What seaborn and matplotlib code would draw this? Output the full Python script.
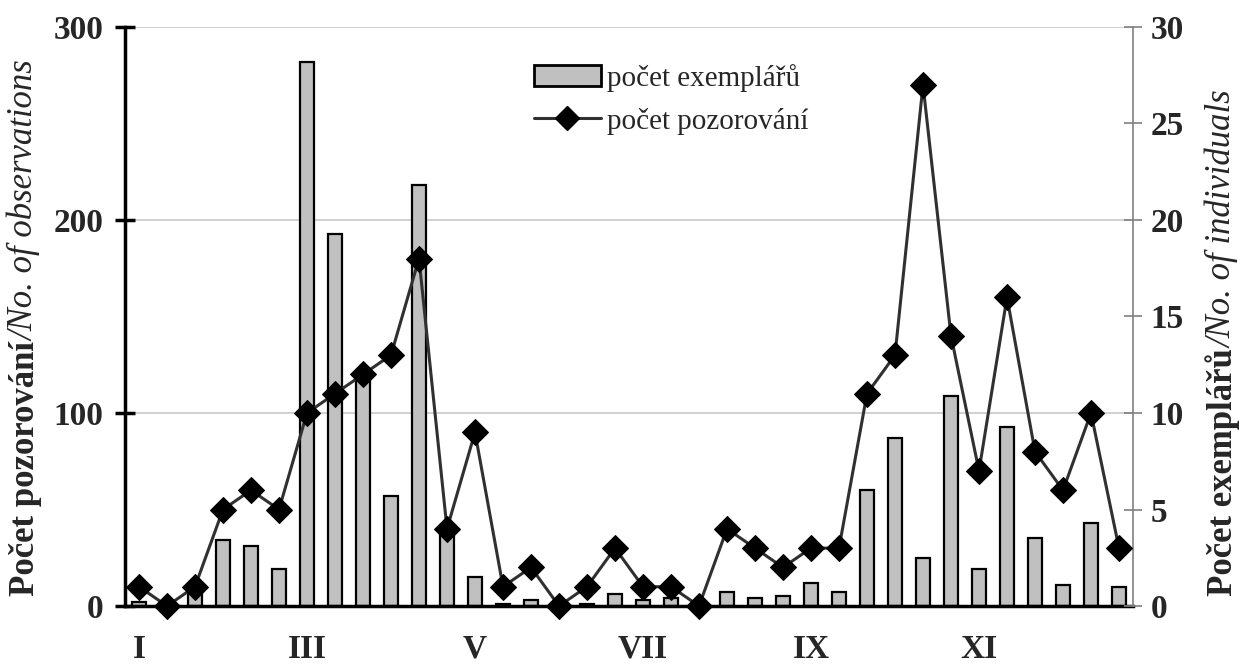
import numpy as np
import matplotlib
matplotlib.use("Agg")
import matplotlib.pyplot as plt
import seaborn as sns
from matplotlib.patches import Patch
from matplotlib.lines import Line2D

# decades (3 per month), January .. December
decades = np.arange(36)
month_labels = ["I", "III", "V", "VII", "IX", "XI"]
month_pos = [0, 6, 12, 18, 24, 30]

# bars - left axis (počet exemplářů)
exemplaru = [2, 0, 6, 34, 31, 19, 282, 193, 120, 57, 218, 40,
             15, 1, 3, 0, 1, 6, 3, 4, 0, 7, 4, 5,
             12, 7, 60, 87, 25, 109, 19, 93, 35, 11, 43, 10]
# line - right axis (počet pozorování)
pozorovani = [1, 0, 1, 5, 6, 5, 10, 11, 12, 13, 18, 4,
              9, 1, 2, 0, 1, 3, 1, 1, 0, 4, 3, 2,
              3, 3, 11, 13, 27, 14, 7, 16, 8, 6, 10, 3]

W, H = 1243, 668
sns.set_style("white")
plt.rcParams["font.family"] = ["Liberation Serif", "DejaVu Serif"]

fig = plt.figure(figsize=(W / 100, H / 100), dpi=100)
ax = fig.add_axes([125 / W, 1 - 606 / H, (1133 - 125) / W, (606 - 27) / H])

sns.barplot(x=decades, y=exemplaru, ax=ax, color="#c0c0c0", edgecolor="black",
            linewidth=1.6, width=0.47, saturation=1, zorder=2)
ax.set_xlim(-0.5, 35.5)
ax.set_ylim(0, 300)
ax.set_yticks([0, 100, 200, 300])
ax.yaxis.grid(True, color="#c8c8c8", lw=1.2, zorder=0)
ax.set_axisbelow(True)
ax.set_xlabel("")
ax.set_ylabel("")

ax.set_xticks(month_pos)
ax.set_xticklabels(month_labels, fontweight="bold", fontsize=24)
ax.set_xticks(np.arange(-0.5, 36, 1), minor=True)
ax.tick_params(axis="x", which="major", length=0, pad=20)
ax.tick_params(axis="x", which="minor", direction="inout", length=13, width=2, color="black")
ax.tick_params(axis="y", direction="inout", length=15, width=2.5, color="black",
               labelsize=24, pad=8, left=True)
for lab in ax.get_yticklabels():
    lab.set_fontweight("bold")

for s in ["top", "right"]:
    ax.spines[s].set_visible(False)
ax.spines["left"].set_color("black")
ax.spines["left"].set_linewidth(2.5)
ax.spines["bottom"].set_color("black")
ax.spines["bottom"].set_linewidth(2.5)
ax.spines["bottom"].set_zorder(3)

ax2 = ax.twinx()
sns.lineplot(x=decades, y=pozorovani, ax=ax2, color="#303030", lw=2.2,
             marker="D", markersize=13, markerfacecolor="black",
             markeredgecolor="black", clip_on=False, zorder=5)
ax2.set_ylim(0, 30)
ax2.set_yticks(range(0, 31, 5))
ax2.set_ylabel("")
ax2.tick_params(axis="y", direction="inout", length=13, width=1.2, color="#808080",
                labelsize=24, pad=6, right=True)
for lab in ax2.get_yticklabels():
    lab.set_fontweight("bold")
for s in ["top", "left", "bottom"]:
    ax2.spines[s].set_visible(False)
ax2.spines["right"].set_color("#808080")
ax2.spines["right"].set_linewidth(1.2)

handles = [Patch(facecolor="#c0c0c0", edgecolor="black", lw=2),
           Line2D([], [], color="#303030", lw=2.2, marker="D", markersize=12,
                  markerfacecolor="black", markeredgecolor="black")]
fig.legend(handles, ["počet exemplářů", "počet pozorování"], loc="upper left",
           bbox_to_anchor=(522 / W, 1 - 52 / H), frameon=False, fontsize=21,
           handlelength=2.3, handleheight=0.7, handletextpad=0.2, labelspacing=0.55,
           borderaxespad=0)


# axis titles: bold part + italic part, rotated
def axis_title(x, y0, parts, size=25):
    fig.canvas.draw()
    renderer = fig.canvas.get_renderer()
    y = y0
    for txt, weight, style in parts:
        t = fig.text(x / W, 1 - y / H, txt, rotation=90, rotation_mode="anchor",
                     ha="left", va="baseline", fontsize=size,
                     fontweight=weight, fontstyle=style)
        y -= t.get_window_extent(renderer).height


axis_title(34, 596, [("Počet pozorování", "bold", "normal"),
                     ("/No. of observations", "normal", "italic")])
axis_title(1232, 596, [("Počet exemplářů", "bold", "normal"),
                       ("/No. of individuals", "normal", "italic")])

fig.savefig("out.png", dpi=100)
